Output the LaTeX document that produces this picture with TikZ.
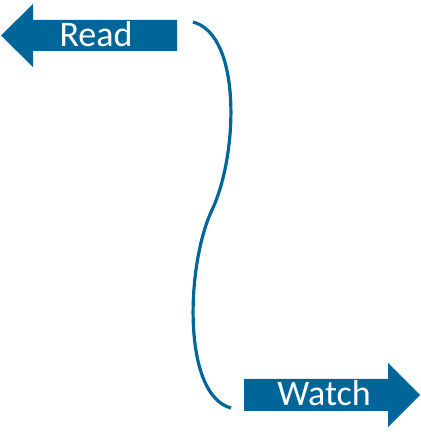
\documentclass[tikz,border=0pt]{standalone}
\usepackage{fontspec}
\setmainfont{Carlito}
\definecolor{arrowblue}{RGB}{0,102,153}
\tikzset{
  bigarrow/.style={fill=arrowblue},
  label/.style={text=white, font=\fontsize{36}{40}\selectfont, inner sep=0pt},
  wave/.style={draw=arrowblue, line width=3.2pt}
}
\begin{document}
\begin{tikzpicture}[x=1pt, y=1pt]
    \useasboundingbox (0,0) rectangle (421,440);
    % arrows
    \fill[bigarrow] (1,404.5) -- (33,436) -- (33,420) -- (177,420) -- (177,389) -- (33,389) -- (33,373) -- cycle;
    \fill[bigarrow] (420,45) -- (388,77) -- (388,61) -- (244,61) -- (244,29) -- (388,29) -- (388,13) -- cycle;
    \node[label] (read) at (96,405.5) {Read};
    \node[label] (watch) at (324,46.5) {Watch};

    \coordinate (top) at (193,418);
    \coordinate (mid) at (212,230);
    \coordinate (bottom) at (231,32);
    \path[wave] (top) .. controls (242,405) and (238,285) .. (mid)
                      .. controls (186,175) and (182,45) .. (bottom);
\end{tikzpicture}
\end{document}
